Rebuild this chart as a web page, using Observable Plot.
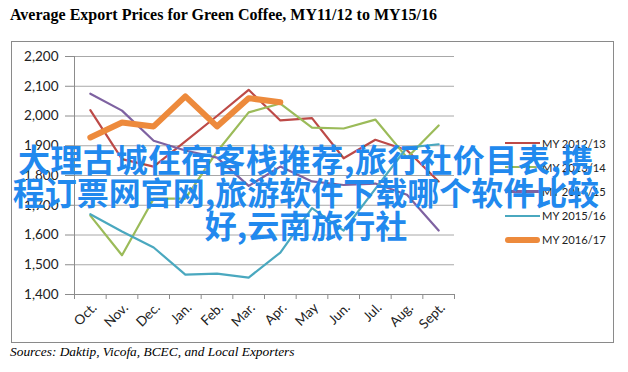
<!DOCTYPE html>
<html><head><meta charset="utf-8">
<script src="https://cdn.jsdelivr.net/npm/d3@7"></script>
<script src="https://cdn.jsdelivr.net/npm/@observablehq/plot@0.6"></script>
<style>
body{margin:0;background:#fff;}
#wrap{position:relative;width:628px;height:372px;overflow:hidden;background:#fff;}
#title{position:absolute;left:10px;top:6px;font:bold 16px "Liberation Serif";color:#000;white-space:nowrap;}
#box{position:absolute;left:11px;top:41px;width:603px;height:302px;border:1.5px solid #8a8a8a;box-sizing:border-box;}
#chart{position:absolute;left:0;top:0;}
#legend{position:absolute;left:505px;top:131px;}
.item{display:flex;align-items:center;height:24.2px;}
.sw{width:35px;}
.lab{font:11.2px Lato;color:#222;margin-left:2px;white-space:nowrap;}
#source{position:absolute;left:10px;top:344px;font:italic 13.4px "Liberation Serif";color:#000;white-space:nowrap;}
#wm{position:absolute;left:6px;top:142px;width:600px;text-align:center;font:bold 32px "Noto Sans CJK SC";line-height:33px;color:#2189ee;white-space:nowrap;}
#wm div:first-child{letter-spacing:0.6px;}
</style></head>
<body>
<div id="wrap">
  <div id="title"></div>
  <div id="box"></div>
  <div id="chart"></div>
  <div id="legend"></div>
  <div id="source"></div>
  <div id="wm"></div>
</div>
<script>
const titleText = "Average Export Prices for Green Coffee, MY11/12 to MY15/16";
const sourceText = "Sources: Daktip, Vicofa, BCEC, and Local Exporters";
const watermarkLines = ["大理古城住宿客栈推荐,旅行社价目表,携", "程订票网官网,旅游软件下载哪个软件比较", "好,云南旅行社"];

const months = ["Oct.","Nov.","Dec.","Jan.","Feb.","Mar.","Apr.","May","Jun.","Jul.","Aug.","Sept."];
const seriesNames = ["MY 2012/13","MY 2013/14","MY 2014/15","MY 2015/16","MY 2016/17"];
const my1213 = [2020,1855,1830,1915,2000,2088,1985,1993,1858,1920,1885,1780];
const my1314 = [1665,1532,1722,1722,1880,2012,2042,1961,1958,1988,1860,1968];
const my1415 = [2075,2018,1917,1884,1860,1765,1830,1780,1768,1773,1735,1615];
const my1516 = [1670,1612,1558,1467,1470,1457,1541,1690,1615,1755,1894,1905];
const my1617 = [1928,1978,1965,2066,1965,2060,2046];
const yTicks = [1400,1500,1600,1700,1800,1900,2000,2100,2200];

const values = [my1213,my1314,my1415,my1516,my1617];
const colors = ["#bd4a47","#9bbb59","#7e62a1","#4aa8bf","#ed8a3c"];
const widths = [2.2,2.2,2.2,2.2,6];

document.getElementById("title").textContent = titleText;
document.getElementById("source").textContent = sourceText;
const wm = document.getElementById("wm");
watermarkLines.forEach(t => { const d = document.createElement("div"); d.textContent = t; wm.appendChild(d); });

const rows = seriesNames.map((s,k) => values[k].map((v,i) => ({series:s, i, v})));
const boundaries = d3.range(13).map(k => k - 0.5);

const chart = Plot.plot({
  width: 628, height: 372,
  marginLeft: 74, marginRight: 174, marginTop: 56, marginBottom: 78,
  x: {type: "linear", domain: [-0.5, 11.5], axis: null},
  y: {domain: [1400, 2200], axis: null},
  color: {domain: seriesNames, range: colors},
  style: {fontFamily: "Lato", fontSize: "13px", color: "#222", background: "transparent", overflow: "visible"},
  marks: [
    Plot.gridY(yTicks.slice(1), {stroke: "#a8a8a8", strokeOpacity: 1, strokeWidth: 1}),
    Plot.ruleX([-0.5], {stroke: "#8c8c8c"}),
    Plot.ruleY([1400], {stroke: "#8c8c8c"}),
    Plot.axisY(yTicks, {tickSize: 9, tickPadding: 7, tickFormat: d3.format(","), stroke: "#8c8c8c", fontSize: 13.5, label: null}),
    Plot.axisX(boundaries, {tickSize: 5, tickFormat: () => "", stroke: "#8c8c8c", label: null}),
    Plot.axisX(d3.range(12), {tickSize: 0, tickPadding: 11, tickRotate: -45, dx: 4, tickFormat: i => months[i], fontSize: 13.5, label: null}),
    ...rows.map((r,k) => Plot.line(r, {x: "i", y: "v", stroke: "series", strokeWidth: widths[k], strokeLinejoin: "round", strokeLinecap: "round"}))
  ]
});
document.getElementById("chart").appendChild(chart);

const legend = document.getElementById("legend");
seriesNames.forEach((s,k) => {
  const it = document.createElement("div"); it.className = "item";
  const sw = document.createElement("div"); sw.className = "sw";
  sw.style.height = widths[k] + "px"; sw.style.background = colors[k];
  if (widths[k] > 3) sw.style.borderRadius = "3px";
  const lb = document.createElement("div"); lb.className = "lab"; lb.textContent = s;
  it.appendChild(sw); it.appendChild(lb); legend.appendChild(it);
});
</script>
</body></html>
